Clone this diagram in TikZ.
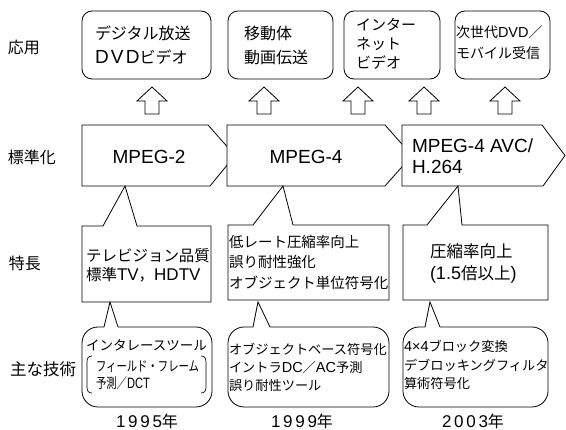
\documentclass[tikz,border=0pt]{standalone}
\usepackage{fontspec}
\usepackage{graphicx}
\setmainfont{Noto Sans CJK JP}
\newfontfamily\lt{Liberation Sans}
\newfontfamily\ltyear[LetterSpace=16]{Liberation Sans}
\newcommand\LT[2]{{\lt\fontsize{#1}{#1}\selectfont #2}}
\begin{document}
\begin{tikzpicture}[x=1pt,y=-1pt,line width=0.8pt,line join=miter,
  txt/.style={inner sep=0pt,outer sep=0pt,align=left,anchor=west},
  ctr/.style={inner sep=0pt,outer sep=0pt},
  shp/.style={draw=black,fill=white},
  appbox/.style={draw=black,fill=white,rounded corners=10pt,inner sep=0pt},
  fs/.style 2 args={font=\fontsize{#1}{#2}\selectfont}]
\useasboundingbox (0,0) rectangle (566,430);

% row labels
\node[ctr,fs={16}{16}] (l1) at (24,47) {応用};
\node[ctr,fs={16}{16}] (l2) at (32,157) {標準化};
\node[ctr,fs={16}{16}] (l3) at (25,263) {特長};
\node[ctr,fs={16.5}{16.5}] (l4) at (43,369) {主な技術};

% application boxes
\node[appbox,minimum width=129pt,minimum height=68pt] (a1) at (146.5,45) {};
\node[appbox,minimum width=105pt,minimum height=68pt] (a2) at (280.5,45) {};
\node[appbox,minimum width=96pt,minimum height=68pt] (a3) at (392,45) {};
\node[appbox,minimum width=95pt,minimum height=68pt] (a4) at (502.5,45) {};
\node[txt,fs={16}{24}] (t1) at (95,45) {デジタル放送\\{\lt\addfontfeature{LetterSpace=12}\fontsize{19}{19}\selectfont DVD}ビデオ};
\node[txt,fs={16}{24}] (t2) at (244,45) {移動体\\動画伝送};
\node[txt,fs={15}{19}] (t3) at (356,44) {インター\\ネット\\ビデオ};
\node[txt,fs={14}{21}] (t4) at (456,43) {次世代\LT{14.5}{DVD}／\\モバイル受信};

% hollow up arrows
\foreach \ax in {152,264,358,424,505}{
  \draw[shp] (\ax-7,114) -- (\ax-7,101) -- (\ax-15,101) -- (\ax,87) -- (\ax+15,101) -- (\ax+7,101) -- (\ax+7,114) -- cycle;
}

% standardization chevrons
\draw[shp] (82,125) -- (208,125) -- (235,155.5) -- (210,186) -- (82,186) -- cycle;
\draw[shp] (227,125) -- (385,125) -- (412,155.5) -- (385,186) -- (227,186) -- cycle;
\draw[shp] (402,125) -- (542,125) -- (565,155.5) -- (543,186) -- (402,186) -- cycle;
\node[ctr,font=\lt\fontsize{19}{19}\selectfont] (s1) at (149,157) {MPEG-2};
\node[ctr,font=\lt\fontsize{19}{19}\selectfont] (s2) at (306,157) {MPEG-4};
\node[txt,font=\lt\fontsize{19}{21}\selectfont] (s3) at (412,156) {MPEG-4 AVC/\\H.264};

% feature callouts
\draw[shp] (82,226) -- (103,226) -- (125,186) -- (137,226) -- (211,226) -- (211,302) -- (82,302) -- cycle;
\draw[shp] (228,225) -- (253,225) -- (283,186) -- (293,225) -- (389,225) -- (389,300) -- (228,300) -- cycle;
\draw[shp] (403,225) -- (427,225) -- (458,186) -- (462,225) -- (548,225) -- (548,300) -- (403,300) -- cycle;
\node[txt,fs={15.5}{19}] (f1) at (86,265) {テレビジョン品質\\標準\LT{17}{TV}，\LT{17}{HDTV}};
\node[txt,fs={14.5}{20.5}] (f2) at (229,262) {低レート圧縮率向上\\誤り耐性強化\\オブジェクト単位符号化};
\node[txt,fs={16.5}{22}] (f3) at (430,263) {圧縮率向上\\\LT{18}{(1.5}倍以上\LT{18}{)}};

% technique callouts
\foreach \xa/\xb/\pl/\apx/\pr in {82/212/104/110/118, 228/389/253/258/270, 403/548/425/430/440}{
  \fill[white,rounded corners=16pt] (\xa,327) rectangle (\xb,407);
  \fill[white] (\pl,327) -- (\apx,302) -- (\pr,327) -- cycle;
  \draw[rounded corners=16pt] (\pr,327) -- (\xb,327) -- (\xb,407) -- (\xa,407) -- (\xa,327) -- (\pl,327);
  \draw (\pl,327) -- (\apx,302) -- (\pr,327);
}
\node[txt,fs={13.5}{13.5}] (k1) at (86,345) {インタレースツール};
\draw[line width=0.7pt] (92,356) .. controls (88.5,356) and (87,358) .. (87,362) -- (87,387) .. controls (87,391) and (88.5,393) .. (92,393);
\draw[line width=0.7pt] (201,356) .. controls (204.5,356) and (206,358) .. (206,362) -- (206,387) .. controls (206,391) and (204.5,393) .. (201,393);
\node[txt,fs={14}{17}] (k1b) at (96,375) {\scalebox{0.74}[1]{フィールド・フレーム}\\\scalebox{0.74}[1]{予測／\LT{15}{DCT}}};
\node[txt,fs={13.2}{18}] (k2) at (229,367) {オブジェクトベース符号化\\イントラ\LT{14.5}{DC}／\LT{14.5}{AC}予測\\誤り耐性ツール};
\node[txt,fs={13.2}{18.5}] (k3) at (404,365) {\LT{14.5}{4×4}ブロック変換\\デブロッキングフィルタ\\算術符号化};

% years
\node[ctr,fs={16}{16}] (y1) at (147,421) {{\ltyear\fontsize{17}{17}\selectfont 1995}年};
\node[ctr,fs={16}{16}] (y2) at (302,421) {{\ltyear\fontsize{17}{17}\selectfont 1999}年};
\node[ctr,fs={16}{16}] (y3) at (473,421) {{\ltyear\fontsize{17}{17}\selectfont 2003}年};
\end{tikzpicture}
\end{document}
